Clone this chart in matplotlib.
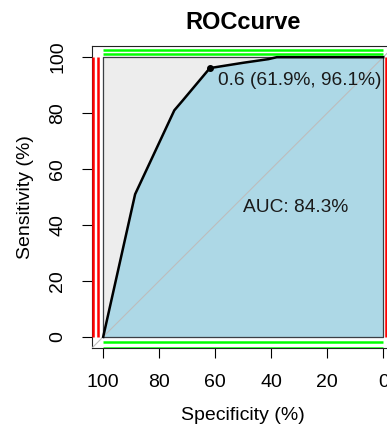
import matplotlib
matplotlib.use("Agg")
import matplotlib.pyplot as plt

plt.rcParams['font.family'] = ['Liberation Sans', 'DejaVu Sans']

# ROC curve points (specificity %, sensitivity %)
spec = [100, 88.6, 74.6, 71.7, 61.9, 50.0, 41.0, 38.0, 0]
sens = [0, 51.0, 81.0, 84.4, 96.1, 98.0, 99.3, 100, 100]
best_spec, best_sens, best_thr = 61.9, 96.1, 0.6
auc = 84.3
ticks = [100, 80, 60, 40, 20, 0]

fig = plt.figure(figsize=(3.87, 4.34), dpi=100)
ax = fig.add_axes([92 / 387, 1 - 348 / 434, 302.4 / 387, 302 / 434])
ax.set_xlim(104, -4)
ax.set_ylim(-4, 104)

# max auc polygon (grey square) and auc polygon (light blue)
ax.fill([100, 100, 0, 0], [0, 100, 100, 0], color='#ededed', zorder=1)
ax.fill(spec + [0], sens + [0], color='#add8e6', zorder=2)
ax.plot([100, 100, 0, 0, 100], [0, 100, 100, 0, 0], color='#3a3f44', lw=0.9, zorder=3)

# identity line
ax.plot([104, -4], [-4, 104], color='#bdbdbd', lw=0.8, zorder=4)

# coloured guide lines
for xv in [103.6, 101.8, -1.1]:
    ax.plot([xv, xv], [0, 100], color='red', lw=1.8, solid_capstyle='butt', zorder=5)
for yv in [102.7, 101.3, -2.0, -3.9]:
    ax.plot([100, 0], [yv, yv], color='#00ff00', lw=1.8, solid_capstyle='butt', zorder=5)

# ROC curve
ax.plot(spec, sens, color='black', lw=1.8, zorder=6)
ax.plot([best_spec], [best_sens], 'o', color='black', ms=4, zorder=7)
ax.text(59.0, 91.8, '%.1f (%.1f%%, %.1f%%)' % (best_thr, best_spec, best_sens),
        fontsize=13.8, color='#1a1a1a', ha='left', va='center', zorder=8)
ax.text(31.4, 46.4, 'AUC: %.1f%%' % auc, fontsize=13.8, color='#1a1a1a',
        ha='center', va='center', zorder=8)

ax.set_xticks(ticks)
ax.set_yticks(ticks)
ax.set_xticklabels([str(t) for t in ticks])
ax.set_yticklabels([str(t) for t in ticks], rotation=90, va='center')
ax.tick_params(direction='out', length=7.5, width=0.8, labelsize=14, pad=11)
for s in ax.spines.values():
    s.set_linewidth(0.8)
    s.set_color('#222222')

ax.set_xlabel('Specificity (%)', fontsize=14, labelpad=12)
ax.set_ylabel('Sensitivity (%)', fontsize=14, labelpad=11)
fig.text(243 / 387, 1 - 22.5 / 434, 'ROCcurve', fontsize=17, fontweight='bold',
         ha='center', va='center')

fig.savefig('out.png', dpi=100)
